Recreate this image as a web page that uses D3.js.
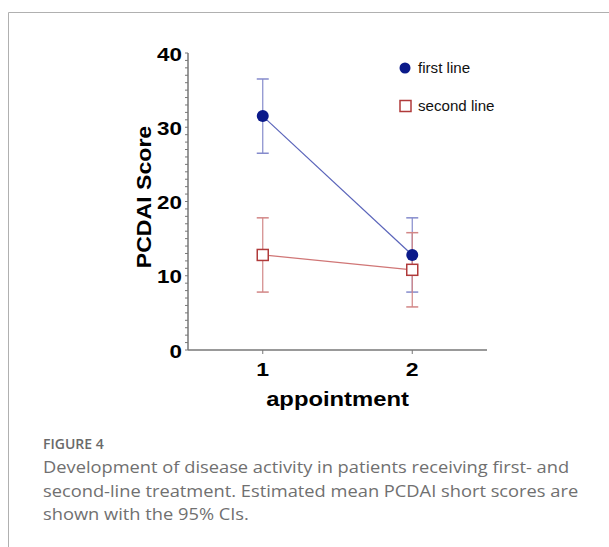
<!DOCTYPE html>
<html>
<head>
<meta charset="utf-8">
<script src="https://cdn.jsdelivr.net/npm/d3@7"></script>
<style>
  body { margin: 0; background: #fff; }
  svg { display: block; }
</style>
</head>
<body>
<svg width="609" height="547"></svg>
<script>
// data
const appointments = [1, 2];
const firstMean = [31.5, 12.8];
const firstLow = [26.5, 7.8];
const firstHigh = [36.5, 17.8];
const secondMean = [12.8, 10.8];
const secondLow = [7.8, 5.8];
const secondHigh = [17.8, 15.8];
const yTicks = [0, 10, 20, 30, 40];
const legendLabels = ["first line", "second line"];
const captionLines = [
  "Development of disease activity in patients receiving first- and",
  "second-line treatment. Estimated mean PCDAI short scores are",
  "shown with the 95% CIs."
];

const svg = d3.select("svg");
const chartFont = "Liberation Sans, Arial, sans-serif";

// frame lines of the figure box
svg.append("path")
  .attr("d", "M8.5,547 L8.5,12.5 L609,12.5")
  .attr("fill", "none")
  .attr("stroke", "#b0b0b0")
  .attr("stroke-width", 1);

const x = d3.scaleLinear().domain([0.5, 2.5]).range([188, 487]);
const y = d3.scaleLinear().domain([0, 40]).range([350, 53]);

// y axis
const yAxis = svg.append("g").attr("transform", "translate(188,0)");
yAxis.append("line")
  .attr("y1", y(0)).attr("y2", y(40))
  .attr("stroke", "#777").attr("stroke-width", 1.5);
yAxis.selectAll(".minor")
  .data(d3.range(0, 41))
  .enter().append("line")
  .attr("x1", -3).attr("x2", 0)
  .attr("y1", d => y(d)).attr("y2", d => y(d))
  .attr("stroke", "#777").attr("stroke-width", 1);
yAxis.selectAll(".lab")
  .data(yTicks)
  .enter().append("text")
  .attr("transform", d => "translate(-6," + (y(d) + 7.5) + ") scale(1.28,1)")
  .attr("text-anchor", "end")
  .attr("font-family", chartFont)
  .attr("font-weight", "bold")
  .attr("font-size", 17.5)
  .text(d => d);

// x axis
const xAxis = svg.append("g").attr("transform", "translate(0," + y(0) + ")");
xAxis.append("line")
  .attr("x1", x(0.5)).attr("x2", x(2.5))
  .attr("stroke", "#777").attr("stroke-width", 1.5);
xAxis.selectAll(".tk")
  .data(appointments)
  .enter().append("line")
  .attr("x1", d => x(d)).attr("x2", d => x(d))
  .attr("y1", 0).attr("y2", 4)
  .attr("stroke", "#777");
xAxis.selectAll(".lab")
  .data(appointments)
  .enter().append("text")
  .attr("transform", d => "translate(" + x(d) + ",26) scale(1.28,1)")
  .attr("text-anchor", "middle")
  .attr("font-family", chartFont)
  .attr("font-weight", "bold")
  .attr("font-size", 18)
  .text(d => d);

// axis titles
svg.append("text")
  .attr("transform", "translate(" + x(1.5) + ",406) scale(1.19,1)")
  .attr("text-anchor", "middle")
  .attr("font-family", chartFont)
  .attr("font-weight", "bold")
  .attr("font-size", 20)
  .text("appointment");

svg.append("text")
  .attr("transform", "translate(150.5,197) rotate(-90) scale(1.1,1)")
  .attr("text-anchor", "middle")
  .attr("font-family", chartFont)
  .attr("font-weight", "bold")
  .attr("font-size", 21)
  .text("PCDAI Score");

const series = [
  { mean: firstMean, low: firstLow, high: firstHigh, color: "#0b1a8a", line: "#5a64ba", bar: "#858bcc", shape: "circle" },
  { mean: secondMean, low: secondLow, high: secondHigh, color: "#b03a3a", line: "#d07676", bar: "#d28686", shape: "square" }
];

// error bars
series.forEach(s => {
  const g = svg.append("g");
  g.selectAll(".v")
    .data(appointments)
    .enter().append("line")
    .attr("x1", d => x(d)).attr("x2", d => x(d))
    .attr("y1", (d, i) => y(s.low[i])).attr("y2", (d, i) => y(s.high[i]))
    .attr("stroke", s.bar).attr("stroke-width", 1.2);
  [s.low, s.high].forEach(arr => {
    g.selectAll(null)
      .data(appointments)
      .enter().append("line")
      .attr("x1", d => x(d) - 6).attr("x2", d => x(d) + 6)
      .attr("y1", (d, i) => y(arr[i])).attr("y2", (d, i) => y(arr[i]))
      .attr("stroke", s.bar).attr("stroke-width", 1.5);
  });
});

// lines and markers
const line = d3.line().x(d => x(d[0])).y(d => y(d[1]));
series.slice().reverse().forEach(s => {
  svg.append("path")
    .datum(appointments.map((a, i) => [a, s.mean[i]]))
    .attr("d", line)
    .attr("fill", "none")
    .attr("stroke", s.line)
    .attr("stroke-width", 1.2);
});
series.slice().reverse().forEach(s => {
  const pts = appointments.map((a, i) => [a, s.mean[i]]);
  if (s.shape === "circle") {
    svg.selectAll(null).data(pts).enter().append("circle")
      .attr("cx", d => x(d[0])).attr("cy", d => y(d[1]))
      .attr("r", 6).attr("fill", s.color);
  } else {
    svg.selectAll(null).data(pts).enter().append("rect")
      .attr("x", d => x(d[0]) - 5.5).attr("y", d => y(d[1]) - 5.5)
      .attr("width", 11).attr("height", 11)
      .attr("fill", "#fff").attr("stroke", s.color).attr("stroke-width", 1.5);
  }
});

// legend
const legend = svg.append("g");
legend.append("circle").attr("cx", 405).attr("cy", 68).attr("r", 5.5).attr("fill", series[0].color);
legend.append("rect").attr("x", 400).attr("y", 100.5).attr("width", 11).attr("height", 11)
  .attr("fill", "#fff").attr("stroke", series[1].color).attr("stroke-width", 1.5);
legend.selectAll("text")
  .data(legendLabels)
  .enter().append("text")
  .attr("transform", (d, i) => "translate(418," + (73 + i * 38) + ") scale(1.08,1)")
  .attr("font-family", chartFont)
  .attr("font-size", 14)
  .attr("fill", "#111")
  .text(d => d);

// caption
svg.append("text")
  .attr("x", 43).attr("y", 449)
  .attr("font-family", "Open Sans, sans-serif")
  .attr("font-weight", 600)
  .attr("font-size", 14)
  .attr("fill", "#6a6a6a")
  .text("FIGURE 4");
svg.selectAll(".cap")
  .data(captionLines)
  .enter().append("text")
  .attr("transform", (d, i) => "translate(43," + (473 + i * 23.5) + ") scale(1.18,1)")
  .attr("font-family", "Open Sans, sans-serif")
  .attr("font-size", 15.5)
  .attr("fill", "#707070")
  .text(d => d);
</script>
</body>
</html>
